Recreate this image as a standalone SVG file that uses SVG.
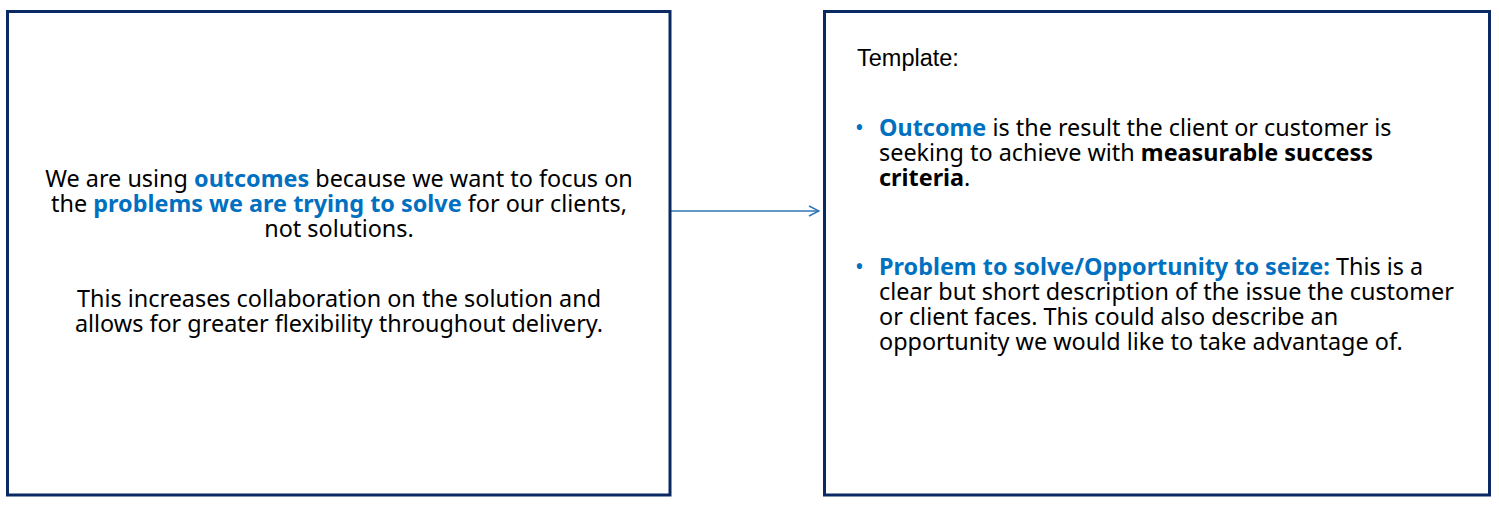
<svg xmlns="http://www.w3.org/2000/svg" width="1499" height="506" viewBox="0 0 1499 506">
<defs>
<style>
.box{fill:#fff;stroke:#0B2A63;stroke-width:3}
.t{font-family:"Noto Sans","Open Sans","DejaVu Sans",sans-serif;font-size:23.4px;fill:#000}
.h{font-family:"Liberation Sans",Arial,sans-serif;font-size:23.5px;fill:#000}
.c{text-anchor:middle}
.b{font-weight:bold;fill:#0070C0}
.k{font-weight:bold;fill:#000}
.dot{fill:#0070C0}
.conn{stroke:#2E75B6;stroke-width:1.5;fill:none}
</style>
<marker id="arr" viewBox="0 0 12 12" refX="11" refY="6" markerWidth="12" markerHeight="12" markerUnits="userSpaceOnUse" orient="auto">
<path d="M1,1 L11,6 L1,11" fill="none" stroke="#2E75B6" stroke-width="1.5"/>
</marker>
</defs>
<rect width="1499" height="506" fill="#fff"/>
<g id="connectors">
<line class="conn" x1="671" y1="211" x2="819" y2="211" marker-end="url(#arr)"/>
</g>
<g id="why">
<rect class="box" x="7.5" y="11.5" width="662.5" height="483.5"/>
<text class="t c" y="187"><tspan x="339">We are using <tspan class="b">outcomes</tspan> because we want to focus on</tspan><tspan x="339" dy="25">the <tspan class="b">problems we are trying to solve</tspan> for our clients,</tspan><tspan x="339" dy="25">not solutions.</tspan></text>
<text class="t c" y="307"><tspan x="339">This increases collaboration on the solution and</tspan><tspan x="339" dy="25">allows for greater flexibility throughout delivery.</tspan></text>
</g>
<g id="template">
<rect class="box" x="824.5" y="11.5" width="665" height="483.5"/>
<text class="h" x="857" y="66">Template:</text>
<text class="t" y="136"><tspan class="dot" x="855">•</tspan><tspan x="879"><tspan class="b">Outcome</tspan> is the result the client or customer is</tspan><tspan x="879" dy="25">seeking to achieve with <tspan class="k">measurable success</tspan></tspan><tspan x="879" dy="25"><tspan class="k">criteria</tspan>.</tspan></text>
<text class="t" y="275"><tspan class="dot" x="855">•</tspan><tspan x="879"><tspan class="b">Problem to solve/Opportunity to seize:</tspan> This is a</tspan><tspan x="879" dy="25">clear but short description of the issue the customer</tspan><tspan x="879" dy="25">or client faces. This could also describe an</tspan><tspan x="879" dy="25">opportunity we would like to take advantage of.</tspan></text>
</g>
</svg>
